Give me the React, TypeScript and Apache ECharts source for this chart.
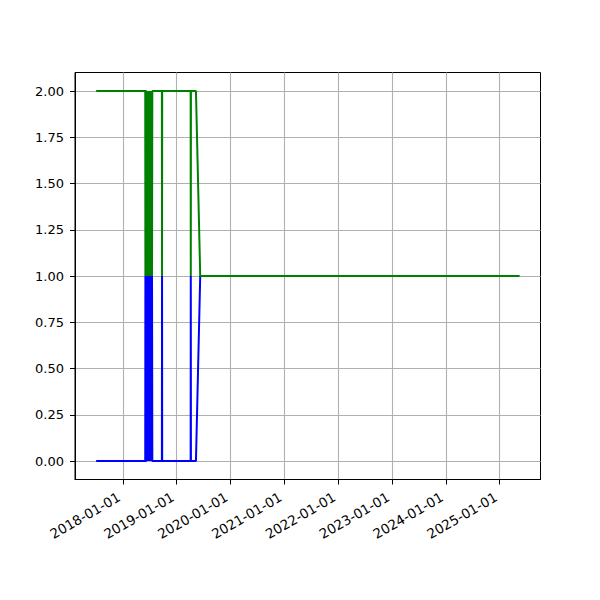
import React, { useEffect, useRef } from "react";
import * as echarts from "echarts";

const dates = [
  "2017-07-04", "2018-06-02", "2018-06-03", "2018-06-04", "2018-06-09", "2018-06-10",
  "2018-06-12", "2018-06-14", "2018-06-16", "2018-06-18", "2018-06-20", "2018-06-23",
  "2018-06-25", "2018-06-28", "2018-06-30", "2018-07-03", "2018-07-05", "2018-07-08",
  "2018-07-10", "2018-07-13", "2018-07-15", "2018-07-18", "2018-07-20", "2018-09-23",
  "2018-09-24", "2018-09-25", "2019-04-06", "2019-04-07", "2019-04-08", "2019-05-12",
  "2019-06-10", "2025-05-14",
];
const blueValues = [0, 0, 1, 0, 0, 1, 0, 1, 0, 1, 0, 1, 0, 1, 0, 1, 0, 1, 0, 1, 0, 1, 0, 0, 1, 0, 0, 1, 0, 0, 1, 1];
const greenValues = [2, 2, 1, 2, 2, 1, 2, 1, 2, 1, 2, 1, 2, 1, 2, 1, 2, 1, 2, 1, 2, 1, 2, 2, 1, 2, 2, 1, 2, 2, 1, 1];
const xTickYears = [2018, 2019, 2020, 2021, 2022, 2023, 2024, 2025];
const yTicks = [0, 0.25, 0.5, 0.75, 1, 1.25, 1.5, 1.75, 2];

const toTs = (s: string) => {
  const [y, m, d] = s.split("-").map(Number);
  return Date.UTC(y, m - 1, d);
};

export default function App() {
  const ref = useRef<HTMLDivElement>(null);
  useEffect(() => {
    if (!ref.current) return;
    const chart = echarts.init(ref.current, null, { renderer: "svg" });
    const ts = dates.map(toTs);
    const tMin = Math.min(...ts);
    const tMax = Math.max(...ts);
    const span = tMax - tMin;
    const xTicks = xTickYears.map((y) => Date.UTC(y, 0, 1));
    const pad = (n: number) => (n < 10 ? "0" + n : "" + n);
    const font = "DejaVu Sans";
    chart.setOption({
      animation: false,
      backgroundColor: "#ffffff",
      grid: {
        left: 75,
        right: 59.5,
        top: 72.5,
        bottom: 120.5,
        show: true,
        borderColor: "#000000",
        borderWidth: 1,
        backgroundColor: "transparent",
      },
      xAxis: {
        type: "value",
        min: tMin - 0.05 * span,
        max: tMax + 0.05 * span,
        axisLine: { show: true, onZero: false, lineStyle: { color: "#000", width: 1 } },
        axisTick: { show: true, length: 5, lineStyle: { color: "#000", width: 1 }, customValues: xTicks },
        axisLabel: {
          customValues: xTicks,
          rotate: 30,
          margin: 14,
          align: "right",
          verticalAlign: "middle",
          padding: [0, 4.5, 0, 0],
          color: "#000",
          fontSize: 13.5,
          fontFamily: font,
          formatter: (v: number) => {
            const d = new Date(v);
            return `${d.getUTCFullYear()}-${pad(d.getUTCMonth() + 1)}-${pad(d.getUTCDate())}`;
          },
        },
        splitLine: { show: true, lineStyle: { color: "#b0b0b0", width: 1.1 } },
      },
      yAxis: {
        type: "value",
        min: -0.1,
        max: 2.1,
        axisLine: { show: true, onZero: false, lineStyle: { color: "#000", width: 1 } },
        axisTick: { show: true, length: 5, lineStyle: { color: "#000", width: 1 }, customValues: yTicks },
        axisLabel: {
          customValues: yTicks,
          margin: 11,
          color: "#000",
          fontSize: 13,
          fontFamily: font,
          formatter: (v: number) => v.toFixed(2),
        },
        splitLine: { show: true, lineStyle: { color: "#b0b0b0", width: 1.1 } },
      },
      series: [
        {
          type: "line",
          data: ts.map((t, i) => [t, blueValues[i]]),
          symbol: "none",
          lineStyle: { color: "#0000ff", width: 2 },
          itemStyle: { color: "#0000ff" },
        },
        {
          type: "line",
          data: ts.map((t, i) => [t, greenValues[i]]),
          symbol: "none",
          lineStyle: { color: "#008000", width: 2 },
          itemStyle: { color: "#008000" },
        },
      ],
    });
    return () => chart.dispose();
  }, []);
  return <div ref={ref} style={{ width: 600, height: 600, margin: -8 }} />;
}
